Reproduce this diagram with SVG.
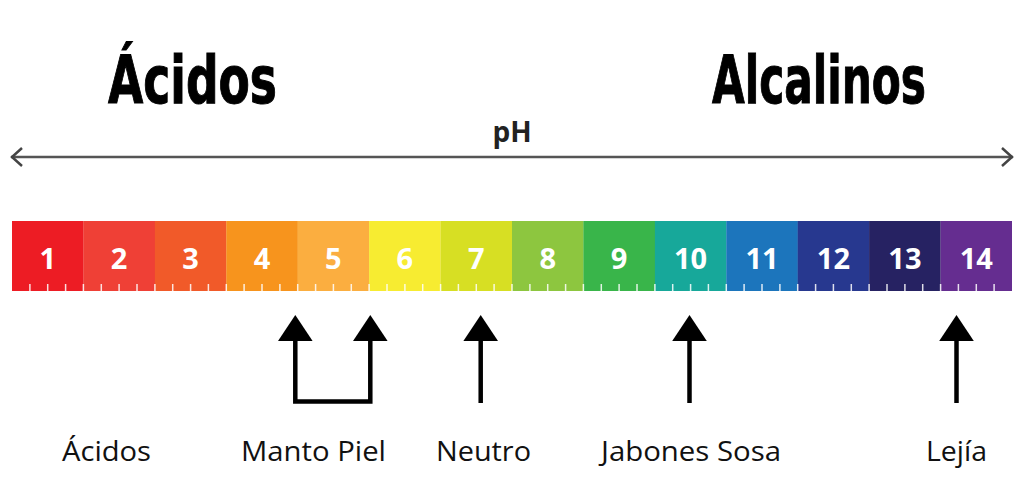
<svg xmlns="http://www.w3.org/2000/svg" width="1024" height="500" viewBox="0 0 1024 500">
<style>
.title{font-family:"DejaVu Sans Condensed","DejaVu Sans",sans-serif;font-weight:bold;font-size:66px;fill:#000;stroke:#000;stroke-width:1}
.num{font-family:"Open Sans","Liberation Sans",sans-serif;font-weight:bold;font-size:29px;fill:#fff;text-anchor:middle}
.lbl{font-family:"Open Sans","Liberation Sans",sans-serif;font-size:28px;fill:#111;text-anchor:middle}
.ph{font-family:"Open Sans","Liberation Sans",sans-serif;font-weight:bold;font-size:28px;fill:#222;text-anchor:middle}
.tick{stroke:#fff;stroke-width:1.5;opacity:0.85}
.shaft{stroke:#000;stroke-width:4.5;fill:none}
.head{fill:#000}
</style>
<rect width="1024" height="500" fill="#fff"/>
<text class="title" x="108" y="103" textLength="169" lengthAdjust="spacingAndGlyphs">Ácidos</text>
<text class="title" x="712" y="103" textLength="214" lengthAdjust="spacingAndGlyphs">Alcalinos</text>
<text class="ph" x="512" y="142">pH</text>
<g id="ph-axis">
<line x1="11" y1="157" x2="1013" y2="157" stroke="#555" stroke-width="2.5"/>
<polyline points="22,148 12,157 22,166" fill="none" stroke="#444" stroke-width="2.5"/>
<polyline points="1002,148 1012,157 1002,166" fill="none" stroke="#444" stroke-width="2.5"/>
</g>
<g id="scale">
<rect x="12" y="221" width="71.6" height="70" fill="#ED1C24"/>
<rect x="83.4" y="221" width="71.6" height="70" fill="#EF4036"/>
<rect x="154.9" y="221" width="71.6" height="70" fill="#F15A29"/>
<rect x="226.3" y="221" width="71.6" height="70" fill="#F7941D"/>
<rect x="297.7" y="221" width="71.6" height="70" fill="#FBAE40"/>
<rect x="369.1" y="221" width="71.6" height="70" fill="#F7EC31"/>
<rect x="440.6" y="221" width="71.6" height="70" fill="#D7DF23"/>
<rect x="512" y="221" width="71.6" height="70" fill="#8DC63F"/>
<rect x="583.4" y="221" width="71.6" height="70" fill="#39B54A"/>
<rect x="654.9" y="221" width="71.6" height="70" fill="#17A89A"/>
<rect x="726.3" y="221" width="71.6" height="70" fill="#1C75BC"/>
<rect x="797.7" y="221" width="71.6" height="70" fill="#27388F"/>
<rect x="869.1" y="221" width="71.6" height="70" fill="#262262"/>
<rect x="940.6" y="221" width="71.4" height="70" fill="#652D90"/>
<text class="num" x="47.7" y="269">1</text>
<text class="num" x="119.1" y="269">2</text>
<text class="num" x="190.6" y="269">3</text>
<text class="num" x="262" y="269">4</text>
<text class="num" x="333.4" y="269">5</text>
<text class="num" x="404.9" y="269">6</text>
<text class="num" x="476.3" y="269">7</text>
<text class="num" x="547.7" y="269">8</text>
<text class="num" x="619.1" y="269">9</text>
<text class="num" x="690.6" y="269">10</text>
<text class="num" x="762" y="269">11</text>
<text class="num" x="833.4" y="269">12</text>
<text class="num" x="904.9" y="269">13</text>
<text class="num" x="976.3" y="269">14</text>
<path class="tick" d="M29.9 284V291M47.7 284V291M65.6 284V291M83.4 284V291M101.3 284V291M119.1 284V291M137 284V291M154.9 284V291M172.7 284V291M190.6 284V291M208.4 284V291M226.3 284V291M244.1 284V291M262 284V291M279.9 284V291M297.7 284V291M315.6 284V291M333.4 284V291M351.3 284V291M369.1 284V291M387 284V291M404.9 284V291M422.7 284V291M440.6 284V291M458.4 284V291M476.3 284V291M494.1 284V291M512 284V291M529.9 284V291M547.7 284V291M565.6 284V291M583.4 284V291M601.3 284V291M619.1 284V291M637 284V291M654.9 284V291M672.7 284V291M690.6 284V291M708.4 284V291M726.3 284V291M744.1 284V291M762 284V291M779.9 284V291M797.7 284V291M815.6 284V291M833.4 284V291M851.3 284V291M869.1 284V291M887 284V291M904.9 284V291M922.7 284V291M940.6 284V291M958.4 284V291M976.3 284V291M994.1 284V291"/>
</g>
<g id="connectors">
<path class="shaft" d="M295.3 338V401.5H370.3V338"/>
<polygon class="head" points="295.3,315 278,341 312.6,341"/>
<polygon class="head" points="370.3,315 353,341 387.6,341"/>
<line class="shaft" x1="480.7" y1="338" x2="480.7" y2="403"/>
<polygon class="head" points="480.7,315 463.4,341 498,341"/>
<line class="shaft" x1="689.5" y1="338" x2="689.5" y2="403"/>
<polygon class="head" points="689.5,315 672.2,341 706.8,341"/>
<line class="shaft" x1="956.5" y1="338" x2="956.5" y2="403"/>
<polygon class="head" points="956.5,315 939.2,341 973.8,341"/>
</g>
<g id="label-acidos"><text class="lbl" x="106.5" y="461" textLength="89" lengthAdjust="spacingAndGlyphs">Ácidos</text></g>
<g id="label-manto"><text class="lbl" x="313.5" y="461" textLength="145" lengthAdjust="spacingAndGlyphs">Manto Piel</text></g>
<g id="label-neutro"><text class="lbl" x="483.5" y="461" textLength="95" lengthAdjust="spacingAndGlyphs">Neutro</text></g>
<g id="label-jabones"><text class="lbl" x="691" y="461" textLength="180" lengthAdjust="spacingAndGlyphs">Jabones Sosa</text></g>
<g id="label-lejia"><text class="lbl" x="956.5" y="461" textLength="61" lengthAdjust="spacingAndGlyphs">Lejía</text></g>
</svg>
